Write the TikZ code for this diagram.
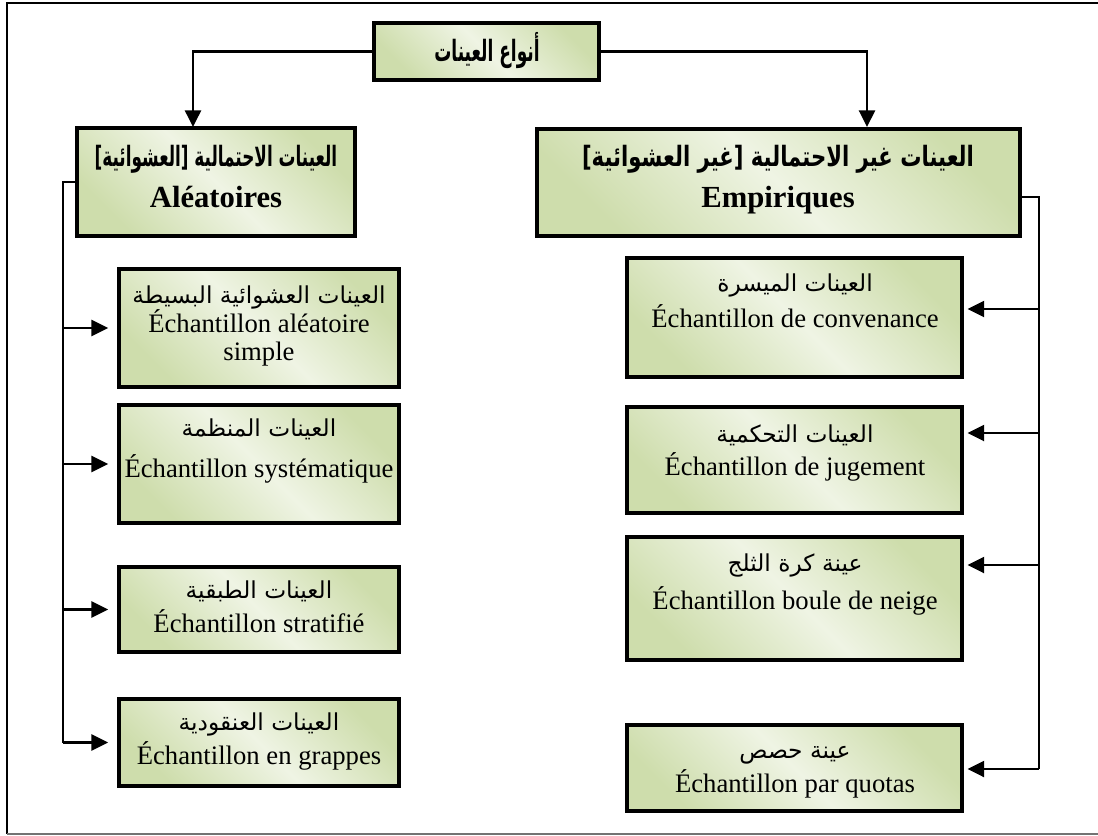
\documentclass[tikz,border=0pt]{standalone}
\usepackage{graphicx}
\usepackage{fontspec}
\setmainfont{Liberation Serif}
\newfontfamily\arabicfont[Script=Arabic]{DejaVu Sans}
\TeXXeTstate=1
\usetikzlibrary{arrows.meta,fit}

\definecolor{gdark}{RGB}{206,221,172}
\definecolor{glight}{RGB}{239,244,228}
\pgfdeclarehorizontalshading{boxfill}{100bp}{color(0bp)=(gdark); color(25bp)=(gdark); color(50bp)=(glight); color(75bp)=(gdark); color(100bp)=(gdark)}

% bold Arabic heading squeezed to a given width
\newcommand{\arb}[2]{\resizebox{#1}{\height}{\arabicfont\bfseries #2}}

\tikzset{
  box/.style={draw=black, line width=2.3pt, shading=boxfill, shading angle=45, inner sep=0pt},
  conn/.style={line width=1.9pt, line join=miter},
  arr/.style={conn, -{Triangle[length=12.5pt,width=12pt]}},
  arl/.style={font=\fontsize{17.5}{20}\selectfont\arabicfont, anchor=base, inner sep=0pt},
  arh/.style={font=\fontsize{21}{24}\selectfont, anchor=base, inner sep=0pt},
  lat/.style={font=\fontsize{20}{24}\selectfont, anchor=base, inner sep=0pt},
  lath/.style={font=\fontsize{23}{27}\selectfont\bfseries, anchor=base, inner sep=0pt},
}

\begin{document}
\begin{tikzpicture}[x=0.75pt,y=-0.75pt]
\useasboundingbox (0,0) rectangle (1098,835);

% outer frame
\draw[line width=1.6pt] (1100,3) -- (7,3) -- (7,834);
\draw[line width=1pt, black!55] (7,834) -- (1100,834);

% root
\node[box, fit={(374,23) (599,80)}] (root) {};
\node[arh, font=\fontsize{22}{26}\selectfont] (rootT) at (487,61) {\arb{79pt}{\beginR أنواع العينات\endR}};

% main categories
\node[box, fit={(77,128) (355,236)}] (prob) {};
\node[arh] (probA) at (216,166) {\arb{182pt}{\beginR العينات الاحتمالية [العشوائية]\endR}};
\node[lath] (probL) at (216,207) {Aléatoires};

\node[box, fit={(537,129) (1020,236)}] (nprob) {};
\node[arh] (nprobA) at (778,166) {\arb{294pt}{\beginR العينات غير الاحتمالية [غير العشوائية]\endR}};
\node[lath] (nprobL) at (778,207) {Empiriques};

% probability samples
\node[box, fit={(119,269) (399,387)}] (p1) {};
\node[arl] (p1a) at (259,303) {\beginR العينات العشوائية البسيطة\endR};
\node[lat] (p1b) at (259,332) {Échantillon aléatoire};
\node[lat] (p1c) at (259,360) {simple};

\node[box, fit={(119,405) (399,523)}] (p2) {};
\node[arl] (p2a) at (259,436) {\beginR العينات المنظمة\endR};
\node[lat] (p2b) at (259,477) {Échantillon systématique};

\node[box, fit={(119,567) (399,652)}] (p3) {};
\node[arl] (p3a) at (259,598) {\beginR العينات الطبقية\endR};
\node[lat] (p3b) at (259,632) {Échantillon stratifié};

\node[box, fit={(119,699) (399,786)}] (p4) {};
\node[arl] (p4a) at (259,730) {\beginR العينات العنقودية\endR};
\node[lat] (p4b) at (259,764) {Échantillon en grappes};

% non-probability samples
\node[box, fit={(627,258) (962,377)}] (n1) {};
\node[arl] (n1a) at (795,291) {\beginR العينات الميسرة\endR};
\node[lat] (n1b) at (795,327) {Échantillon de convenance};

\node[box, fit={(627,407) (962,513)}] (n2) {};
\node[arl] (n2a) at (795,442) {\beginR العينات التحكمية\endR};
\node[lat] (n2b) at (795,475) {Échantillon de jugement};

\node[box, fit={(627,537) (962,660)}] (n3) {};
\node[arl] (n3a) at (795,571) {\beginR عينة كرة الثلج\endR};
\node[lat] (n3b) at (795,609) {Échantillon boule de neige};

\node[box, fit={(627,725) (962,811)}] (n4) {};
\node[arl] (n4a) at (795,758) {\beginR عينة حصص\endR};
\node[lat] (n4b) at (795,792) {Échantillon par quotas};

% connector points
\coordinate (probIn) at (193,127);
\coordinate (nprobIn) at (867,127);
\coordinate (lbus) at (63,182);
\coordinate (rout) at (1020,197);
\coordinate (rbus) at (1039,197);
\coordinate (rb1) at (1039,309);
\coordinate (rb2) at (1039,433);
\coordinate (rb3) at (1039,565);
\coordinate (rb4) at (1039,769);

% root to categories
\draw[arr] (root.west) -| (probIn);
\draw[arr] (root.east) -| (nprobIn);

% left bus
\draw[conn] (prob.west) -- (lbus) -- (lbus |- p4.west);
\foreach \b in {p1,p2,p3,p4}
  \draw[arr, shorten >=7pt] (lbus |- \b.west) -- (\b.west);

% right bus
\draw[conn] (rout) -- (rbus) -- (rb4);
\draw[arr, shorten >=3pt] (rb1) -- (rb1 -| n1.east);
\draw[arr, shorten >=3pt] (rb2) -- (rb2 -| n2.east);
\draw[arr, shorten >=3pt] (rb3) -- (rb3 -| n3.east);
\draw[arr, shorten >=3pt] (rb4) -- (rb4 -| n4.east);
\end{tikzpicture}
\end{document}
